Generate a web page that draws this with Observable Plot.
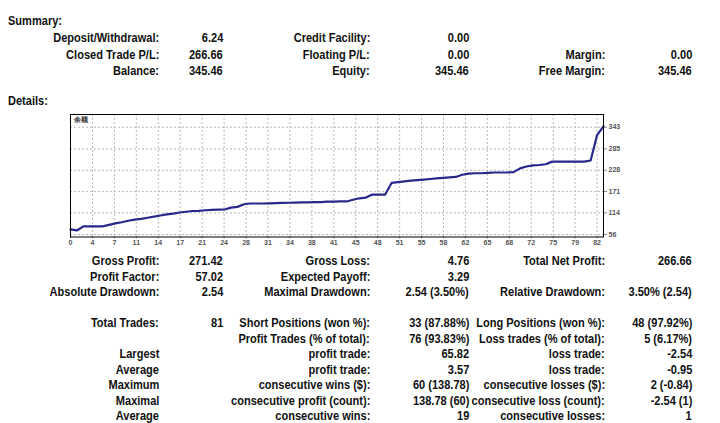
<!DOCTYPE html>
<html>
<head>
<meta charset="utf-8">
<script src="https://cdn.jsdelivr.net/npm/d3@7"></script>
<script src="https://cdn.jsdelivr.net/npm/@observablehq/plot@0.6"></script>
<style>
  html, body { margin: 0; padding: 0; background: #fff; }
  #page { position: relative; width: 720px; height: 423px; overflow: hidden;
    font-family: "Liberation Sans", Arial, sans-serif;
    font-weight: bold; font-size: 12px; color: #111; }
  .t { position: absolute; white-space: nowrap; line-height: 14px; transform: scaleX(0.92); }
  #chart { position: absolute; left: 0; top: 105px; }
</style>
</head>
<body>
<div id="page"><div id="chart"></div></div>
<script>
// ---- chart data ----
const chartTitle = "余额";
const balance = [70, 67, 78, 78, 78, 78, 82, 86, 89, 93, 96, 98, 101, 104, 107, 110, 112, 115, 117, 119,
  119.5, 121, 122, 122.5, 123, 128, 130, 137, 139, 139, 139, 139.5, 140, 140.5, 141, 141.5, 142, 142, 143, 143,
  144, 144, 144.5, 144.5, 149, 153, 155, 163, 163, 163, 194, 196, 198, 200, 201.5, 203, 204.5, 206, 207.5, 209,
  210, 216, 219, 220, 220, 221, 222, 222, 222, 223, 233, 238, 241, 242, 244, 251, 251, 251, 251, 251,
  251, 254, 322, 345.46];
const xTickLabels = ["0","4","7","11","14","17","21","24","28","31","34","38","41","45","48","51","55","58","62","65","68","72","75","79","82"];
const yTickValues = [56, 114, 171, 228, 285, 343];

// ---- report text ----
const summaryRows = [
  ["Deposit/Withdrawal:", "6.24", "Credit Facility:", "0.00", "", ""],
  ["Closed Trade P/L:", "266.66", "Floating P/L:", "0.00", "Margin:", "0.00"],
  ["Balance:", "345.46", "Equity:", "345.46", "Free Margin:", "345.46"]
];
const detailRows = [
  ["Gross Profit:", "271.42", "Gross Loss:", "4.76", "Total Net Profit:", "266.66"],
  ["Profit Factor:", "57.02", "Expected Payoff:", "3.29", "", ""],
  ["Absolute Drawdown:", "2.54", "Maximal Drawdown:", "2.54 (3.50%)", "Relative Drawdown:", "3.50% (2.54)"]
];
const tradeRows = [
  ["Total Trades:", "81", "Short Positions (won %):", "33 (87.88%)", "Long Positions (won %):", "48 (97.92%)"],
  ["", "", "Profit Trades (% of total):", "76 (93.83%)", "Loss trades (% of total):", "5 (6.17%)"],
  ["Largest", "", "profit trade:", "65.82", "loss trade:", "-2.54"],
  ["Average", "", "profit trade:", "3.57", "loss trade:", "-0.95"],
  ["Maximum", "", "consecutive wins ($):", "60 (138.78)", "consecutive losses ($):", "2 (-0.84)"],
  ["Maximal", "", "consecutive profit (count):", "138.78 (60)", "consecutive loss (count):", "-2.54 (1)"],
  ["Average", "", "consecutive wins:", "19", "consecutive losses:", "1"]
];

const page = document.getElementById("page");
const colRight = [159, 223, 370, 469, 605, 692];
function put(text, right, cy, leftAlign) {
  const d = document.createElement("div");
  d.className = "t";
  d.textContent = text;
  if (leftAlign) { d.style.left = right + "px"; d.style.transformOrigin = "left center"; }
  else { d.style.right = (720 - right) + "px"; d.style.transformOrigin = "right center"; }
  d.style.top = (cy - 7) + "px";
  page.appendChild(d);
}
put("Summary:", 8, 21, true);
summaryRows.forEach((r, i) => r.forEach((s, j) => s && put(s, colRight[j], 38 + i * 16.5)));
put("Details:", 8, 101, true);
detailRows.forEach((r, i) => r.forEach((s, j) => s && put(s, colRight[j], 261 + i * 15.5)));
tradeRows.forEach((r, i) => r.forEach((s, j) => s && put(s, colRight[j], 323 + i * 15.5)));

// ---- chart ----
const pts = balance.map((v, i) => ({i, v}));
const xTickPos = xTickLabels.map((_, k) => k * 82 / 24);
const xLab = new Map(xTickPos.map((p, k) => [p, xTickLabels[k]]));
const gridStyle = {stroke: "#b8b8b8", strokeOpacity: 1, strokeDasharray: "2,2"};
const chart = Plot.plot({
  width: 720, height: 148,
  marginLeft: 70, marginRight: 117, marginTop: 9, marginBottom: 16.5,
  style: {fontFamily: "Liberation Sans, sans-serif", background: "#fff"},
  x: {domain: [0, 83]},
  y: {domain: [49.5, 377]},
  marks: [
    Plot.gridX(xTickPos, gridStyle),
    Plot.gridY(yTickValues, gridStyle),
    Plot.axisX(xTickPos, {tickSize: 2, tickPadding: 1, fontSize: 7, fill: "#555", stroke: "#888", tickFormat: d => xLab.get(d), label: null}),
    Plot.axisY(yTickValues, {anchor: "right", tickSize: 3, tickPadding: 2, fontSize: 7, fill: "#555", stroke: "#888", tickFormat: d => String(d), label: null}),
    Plot.line(pts, {x: "i", y: "v", stroke: "#28288a", strokeWidth: 2.2}),
    Plot.text([chartTitle], {frameAnchor: "top-left", dx: 3, dy: 3, fontSize: 7, fill: "#333"}),
    Plot.frame({stroke: "#000"})
  ]
});
document.getElementById("chart").appendChild(chart);
</script>
</body>
</html>
